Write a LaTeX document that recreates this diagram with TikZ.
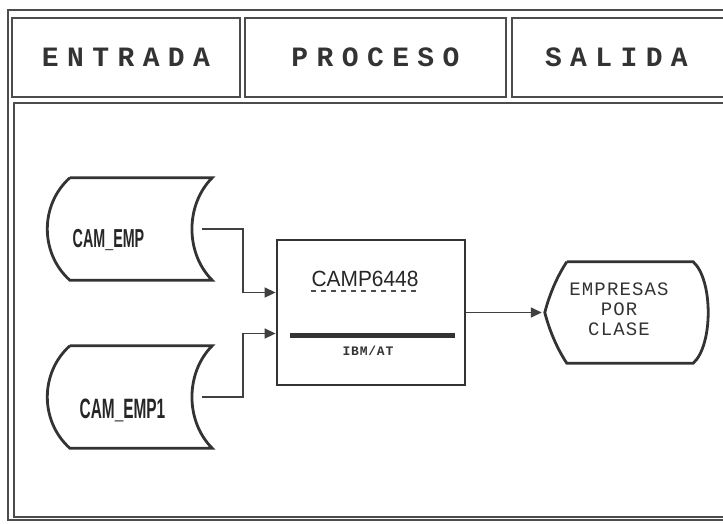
\documentclass[tikz,border=0pt]{standalone}
\usepackage{fontspec}
\setmainfont{Liberation Sans}
\newfontfamily\headfont[LetterSpace=30]{Liberation Mono}
\newfontfamily\narrowfont[FakeStretch=0.55]{Liberation Sans}
\newfontfamily\procfont[FakeStretch=0.95]{Liberation Sans}
\newfontfamily\dotfont[LetterSpace=6]{Liberation Mono}
\usetikzlibrary{arrows.meta,calc}
\begin{document}
\begin{tikzpicture}[
    x=1pt, y=-1pt,
    ink/.style    = {draw=black!80, line width=2.8pt},
    frame/.style  = {draw=black!70, line width=1.8pt},
    head/.style   = {frame, minimum height=79pt, font=\headfont\bfseries\fontsize{28}{28}\selectfont,
                     text=black!80, inner sep=0pt},
    store/.style  = {minimum width=165pt, minimum height=102pt, inner sep=0pt},
    storetext/.style = {font=\narrowfont\bfseries\fontsize{26}{26}\selectfont, text=black!85, inner sep=0pt},
    flow/.style   = {draw=black!75, line width=1.5pt, -{Triangle[length=11pt,width=10pt]}},
  ]
  \useasboundingbox (0,0) rectangle (723,523);
  % frames
  \draw[frame] (8,10) rectangle (760,520);
  \draw[frame] (14,103) rectangle (760,517);
  \node[head, minimum width=228pt] (entrada) at (126,57.5) {ENTRADA};
  \node[head, minimum width=261pt] (proceso) at (375.5,57.5) {PROCESO};
  \node[head, minimum width=248pt, text width=182pt] (salida) at (636,57.5) {SALIDA};

  % input files
  \node[store] (emp) at (129.5,229) {};
  \node[store] (emp1) at (129.5,397) {};
  \node[storetext] (emplbl) at ($(emp.center)+(-21,11)$) {CAM\_EMP};
  \node[storetext, font=\narrowfont\bfseries\fontsize{28}{28}\selectfont] (emp1lbl) at ($(emp1.center)+(-7,13)$) {CAM\_EMP1};
  \foreach \s in {emp,emp1}{
    \draw[ink] ([xshift=23pt]\s.north west) -- (\s.north east)
      .. controls +(-27,27) and +(-27,-27) .. (\s.south east)
      -- ([xshift=23pt]\s.south west)
      .. controls +(-30,-27) and +(-30,27) .. ([xshift=23pt]\s.north west);
  }
  \coordinate (empout) at ([xshift=-10pt]emp.east);
  \coordinate (emp1out) at ([xshift=-10pt]emp1.east);

  % process
  \node[ink, minimum width=188pt, minimum height=145pt] (proc) at (371,312.5) {};
  \node[font=\procfont\fontsize{22}{22}\selectfont, text=black!85,
        inner sep=0pt] (proclbl) at (365,279) {CAMP6448};
  \draw[black!70, line width=1.5pt, dash pattern=on 5pt off 5pt]
    ([yshift=-4pt]proclbl.south west) -- ([yshift=-4pt]proclbl.south east);
  \coordinate (barl) at (290,335);
  \coordinate (barr) at (455,335);
  \draw[black!80, line width=5pt] (barl) -- (barr);
  \node[font=\dotfont\bfseries\fontsize{13}{13}\selectfont, text=black!80, inner sep=0pt]
    (proclow) at (368,351) {IBM/AT};

  % output
  \node[minimum width=165pt, minimum height=101pt, inner sep=0pt] (sal) at (627.5,312.5) {};
  \node[font=\dotfont\fontsize{19}{20}\selectfont, text=black!80, align=center, inner sep=0pt]
    (sallbl) at (619,309) {EMPRESAS\\POR\\CLASE};
  \draw[ink] ([xshift=22pt]sal.north west) -- ([xshift=-17pt]sal.north east)
    .. controls +(20,18) and +(20,-18) .. ([xshift=-17pt]sal.south east)
    -- ([xshift=22pt]sal.south west)
    .. controls +(-12,-18) and +(3,12) .. (sal.west)
    .. controls +(3,-12) and +(-12,18) .. ([xshift=22pt]sal.north west);

  % connectors
  \draw[flow] (empout) -- ++(41,0) |- ([yshift=20pt]proc.west);
  \draw[flow] (emp1out) -- ++(41,0) |- ([yshift=-21pt]proc.west);
  \draw[flow] (proc.east) -- ([xshift=-3pt]sal.west);
\end{tikzpicture}
\end{document}
